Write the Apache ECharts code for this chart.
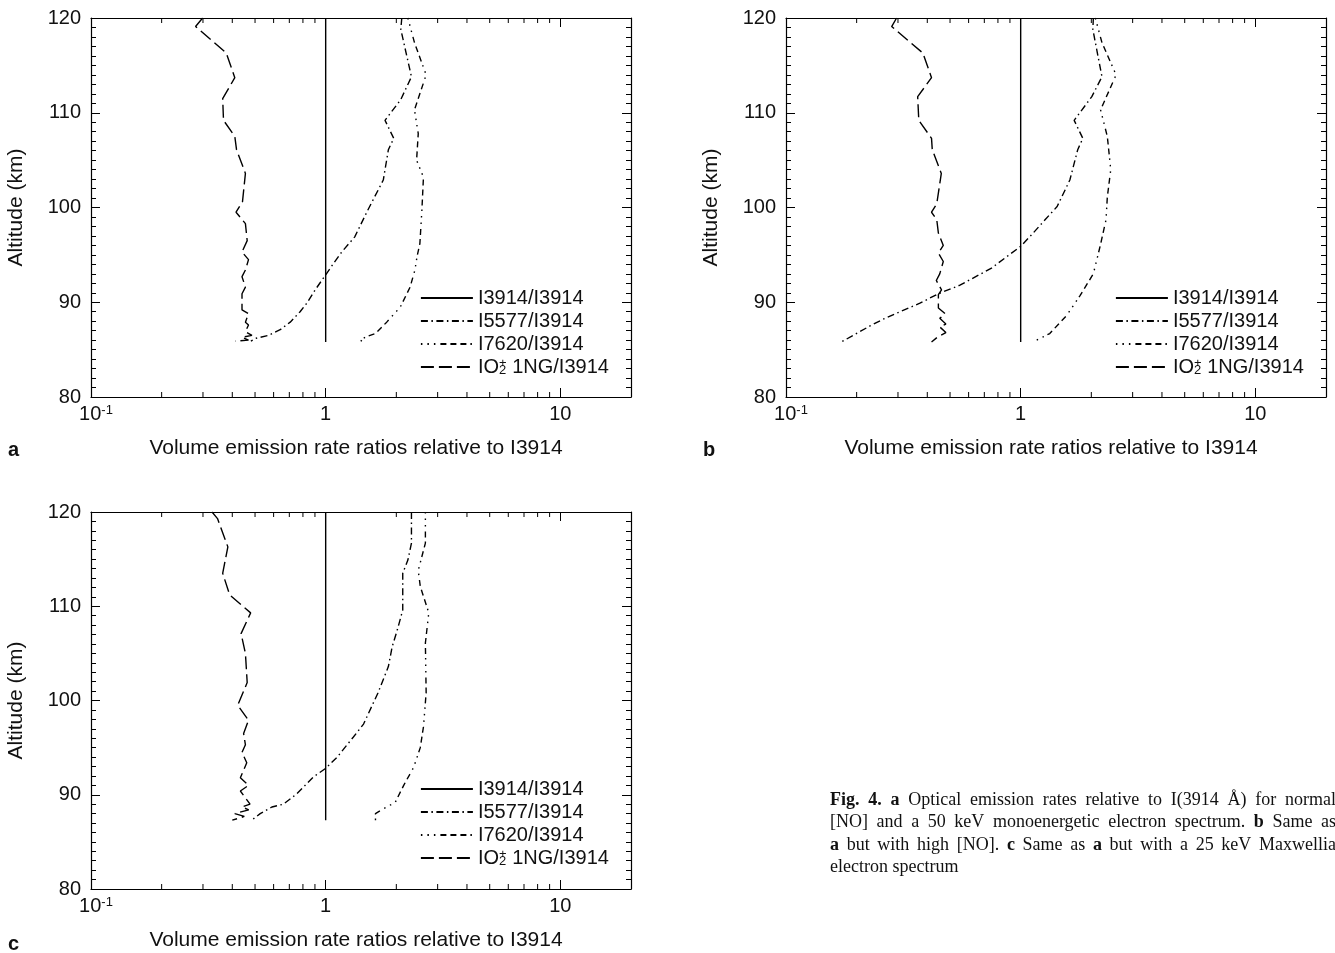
<!DOCTYPE html>
<html><head><meta charset="utf-8">
<script src="https://cdn.jsdelivr.net/npm/echarts@6/dist/echarts.min.js"></script>
<style>html,body{margin:0;padding:0;background:#fff}#c{width:1335px;height:953px}</style>
</head><body><div id="c"></div>
<script>
// ---------- data ----------
const seriesNames = ['I3914/I3914', 'I5577/I3914', 'I7620/I3914', 'IO2+ 1NG/I3914'];
const panelLetters = ['a', 'b', 'c'];
const xAxisTitle = 'Volume emission rate ratios relative to I3914';
const yAxisTitle = 'Altitude (km)';
const xRange = [0.1, 20];
const yRange = [80, 120];
const xMajorTicks = [0.1, 1, 10];
const xMinorTicks = [0.2, 0.3, 0.4, 0.5, 0.6, 0.7, 0.8, 0.9, 2, 3, 4, 5, 6, 7, 8, 9];

// Panel a
const altA_3914 = [85.8, 120];
const valA_3914 = [1, 1];
const altA_5577 = [120, 118.8, 113.8, 111.4, 109.2, 107.3, 106.1, 102.9, 99.7, 96.9, 95.3, 94.1, 92.9, 91.3, 89.9, 89.0, 87.9, 87.1, 86.5, 86.2, 85.9];
const valA_5577 = [2.11, 2.09, 2.32, 2.09, 1.79, 1.95, 1.85, 1.76, 1.51, 1.33, 1.17, 1.08, 1.0, 0.902, 0.831, 0.778, 0.706, 0.640, 0.570, 0.505, 0.48];
const altA_7620 = [120, 117.4, 114.0, 110.3, 107.8, 105.0, 103.2, 99.7, 96.2, 94.8, 93.4, 91.6, 89.5, 87.9, 86.7, 86.4, 86.0, 85.8];
const valA_7620 = [2.24, 2.39, 2.68, 2.39, 2.48, 2.44, 2.61, 2.57, 2.52, 2.45, 2.40, 2.29, 2.08, 1.82, 1.63, 1.50, 1.40, 1.45];
const altA_O2 = [120, 119.1, 116.3, 113.7, 111.5, 109.2, 107.5, 106.1, 103.6, 100.6, 99.5, 98.3, 96.5, 95.3, 94.5, 93.4, 92.7, 91.6, 90.9, 89.2, 88.8, 87.9, 87.6, 86.9, 86.5, 86.3, 86.0, 85.9];
const valA_O2 = [0.299, 0.279, 0.377, 0.410, 0.364, 0.367, 0.410, 0.417, 0.455, 0.442, 0.415, 0.455, 0.463, 0.440, 0.469, 0.455, 0.440, 0.455, 0.440, 0.440, 0.469, 0.455, 0.469, 0.455, 0.485, 0.440, 0.469, 0.411];

// Panel b
const altB_3914 = [85.8, 120];
const valB_3914 = [1, 1];
const altB_5577 = [120, 118.8, 113.8, 111.7, 109.2, 107.3, 106.1, 102.9, 100.1, 98.7, 97.3, 95.9, 94.8, 93.6, 91.8, 90.9, 89.9, 89.0, 88.2, 87.5, 86.5, 85.8];
const valB_5577 = [2.04, 2.03, 2.22, 2.01, 1.69, 1.84, 1.75, 1.62, 1.43, 1.27, 1.13, 1.0, 0.871, 0.751, 0.551, 0.446, 0.372, 0.306, 0.259, 0.228, 0.193, 0.172];
const altB_7620 = [120, 117.4, 114.0, 110.3, 107.5, 104.0, 101.1, 98.7, 95.9, 93.0, 90.7, 88.6, 86.7, 86.0, 85.8];
const valB_7620 = [2.08, 2.22, 2.55, 2.19, 2.34, 2.42, 2.34, 2.31, 2.18, 2.04, 1.79, 1.57, 1.33, 1.17, 1.22];
const altB_O2 = [120, 119.1, 116.3, 113.7, 111.7, 109.2, 107.3, 106.1, 103.6, 100.4, 99.5, 98.7, 97.3, 96.0, 95.2, 94.3, 93.0, 92.3, 91.3, 90.8, 89.4, 88.8, 88.3, 87.7, 87.4, 86.8, 86.3, 85.8];
const valB_O2 = [0.296, 0.282, 0.383, 0.417, 0.364, 0.368, 0.417, 0.420, 0.459, 0.439, 0.417, 0.439, 0.446, 0.468, 0.446, 0.468, 0.452, 0.437, 0.460, 0.446, 0.446, 0.476, 0.452, 0.480, 0.452, 0.480, 0.441, 0.417];

// Panel c
const altC_3914 = [87.3, 120];
const valC_3914 = [1, 1];
const altC_5577 = [120, 116.7, 114.9, 113.5, 109.6, 107.5, 105.7, 103.6, 100.8, 97.5, 96.1, 94.0, 92.8, 91.9, 90.1, 89.0, 88.7, 88.0, 87.3];
const valC_5577 = [2.32, 2.32, 2.24, 2.13, 2.13, 2.02, 1.92, 1.85, 1.67, 1.45, 1.31, 1.12, 1.0, 0.887, 0.753, 0.661, 0.590, 0.526, 0.484];
const altC_7620 = [120, 116.7, 113.8, 112.1, 109.3, 106.1, 100.8, 97.2, 95.0, 92.9, 91.0, 89.2, 88.5, 88.0, 87.3];
const valC_7620 = [2.66, 2.66, 2.48, 2.53, 2.75, 2.66, 2.68, 2.61, 2.53, 2.37, 2.15, 1.98, 1.76, 1.63, 1.63];
const altC_O2 = [120, 119.3, 116.3, 113.5, 111.2, 109.3, 107.1, 105.0, 101.9, 99.5, 97.9, 96.5, 95.3, 94.5, 93.4, 91.8, 91.0, 90.4, 89.0, 88.7, 88.4, 88.0, 87.7, 87.3];
const valC_O2 = [0.328, 0.346, 0.383, 0.364, 0.390, 0.479, 0.436, 0.455, 0.463, 0.422, 0.469, 0.447, 0.455, 0.440, 0.461, 0.433, 0.469, 0.433, 0.476, 0.440, 0.470, 0.410, 0.450, 0.400];

// Caption (words; trailing * = bold)
const captionLine1 = ['Fig.*', '4.*', 'a*', 'Optical', 'emission', 'rates', 'relative', 'to', 'I(3914', 'Å)', 'for', 'normal'];
const captionLine2 = ['[NO]', 'and', 'a', '50', 'keV', 'monoenergetic', 'electron', 'spectrum.', 'b*', 'Same', 'as'];
const captionLine3 = ['a*', 'but', 'with', 'high', '[NO].', 'c*', 'Same', 'as', 'a*', 'but', 'with', 'a', '25', 'keV', 'Maxwellia'];
const captionLine4 = ['electron', 'spectrum'];

// ---------- build ----------
const panels = [
  { grid: { left: 91, top: 18, width: 540, height: 379 }, legend: { left: 415, top: 283 }, letter: { x: 8, y: 450 },
    data: [[altA_3914, valA_3914], [altA_5577, valA_5577], [altA_7620, valA_7620], [altA_O2, valA_O2]] },
  { grid: { left: 786, top: 18, width: 540, height: 379 }, legend: { left: 1110, top: 283 }, letter: { x: 703, y: 450 },
    data: [[altB_3914, valB_3914], [altB_5577, valB_5577], [altB_7620, valB_7620], [altB_O2, valB_O2]] },
  { grid: { left: 91, top: 512, width: 540, height: 377 }, legend: { left: 415, top: 774 }, letter: { x: 8, y: 944 },
    data: [[altC_3914, valC_3914], [altC_5577, valC_5577], [altC_7620, valC_7620], [altC_O2, valC_O2]] }
];

const FONT = "'Liberation Sans', Arial, Helvetica, sans-serif";
const SERIF = "'Liberation Serif', 'Times New Roman', serif";
const INK = '#111';
const lineTypes = ['solid', [7, 3.5, 1.5, 3.5], [1.5, 5, 1.5, 5, 1.5, 5, 6, 4, 6, 4, 6, 4], [13, 5]];

function xLabel(v) {
  const l = Math.log10(v), r = Math.round(l);
  if (Math.abs(l - r) > 1e-6) return '';
  const idx = xMajorTicks.findIndex(t => Math.abs(Math.log10(t) - r) < 1e-6);
  if (idx < 0) return '';
  if (r < 0) return '{b|10}{s|' + r + '}';
  return String(xMajorTicks[idx]);
}

const grids = [], xAxes = [], yAxes = [], series = [], legends = [], graphics = [];
panels.forEach((p, i) => {
  grids.push(p.grid);
  const axLine = { show: true, lineStyle: { color: '#000', width: 1.2 } };
  xAxes.push({
    type: 'log', logBase: 10, min: xRange[0], max: xRange[1], gridIndex: i, position: 'bottom',
    splitLine: { show: false }, axisLine: axLine,
    axisTick: { inside: true, length: 9, lineStyle: { color: '#000' } },
    axisLabel: { margin: 7, color: INK, fontSize: 20, fontFamily: FONT, formatter: xLabel, showMaxLabel: false,
      rich: { b: { fontSize: 20, fontFamily: FONT, color: INK, padding: [0, 0, 0, 10] },
              s: { fontSize: 13, fontFamily: FONT, color: INK, verticalAlign: 'top', lineHeight: 13 } } },
    name: xAxisTitle, nameLocation: 'middle', nameGap: 41,
    nameTextStyle: { fontSize: 21, fontFamily: FONT, color: INK, padding: [0, 10, 0, 0] }
  });
  xAxes.push({
    type: 'log', logBase: 10, min: xRange[0], max: xRange[1], gridIndex: i, position: 'top',
    splitLine: { show: false }, axisLine: axLine,
    axisTick: { inside: true, length: 9, lineStyle: { color: '#000' } }, axisLabel: { show: false }
  });
  yAxes.push({
    type: 'value', min: yRange[0], max: yRange[1], interval: 10, gridIndex: i, position: 'left',
    splitLine: { show: false }, axisLine: axLine,
    axisTick: { inside: true, length: 9, lineStyle: { color: '#000' } },
    minorTick: { show: true, splitNumber: 10, length: 5, lineStyle: { color: '#000' } },
    axisLabel: { margin: 10, color: INK, fontSize: 20, fontFamily: FONT },
    name: yAxisTitle, nameLocation: 'middle', nameGap: 64,
    nameTextStyle: { fontSize: 21, fontFamily: FONT, color: INK }
  });
  yAxes.push({
    type: 'value', min: yRange[0], max: yRange[1], interval: 10, gridIndex: i, position: 'right',
    splitLine: { show: false }, axisLine: axLine,
    axisTick: { inside: true, length: 9, lineStyle: { color: '#000' } },
    minorTick: { show: true, splitNumber: 10, length: 5, lineStyle: { color: '#000' } },
    axisLabel: { show: false }
  });
  p.data.forEach((d, k) => {
    series.push({
      type: 'line', name: seriesNames[k], xAxisIndex: 2 * i, yAxisIndex: 2 * i,
      data: d[0].map((a, j) => [d[1][j], a]),
      symbol: 'none', showSymbol: false, silent: true, z: 3,
      lineStyle: { color: '#000', width: 1.4, type: lineTypes[k] },
      itemStyle: { color: '#000' }
    });
  });
  series.push({
    type: 'custom', name: 'minor-ticks-' + i, xAxisIndex: 2 * i, yAxisIndex: 2 * i, silent: true, clip: false,
    data: xMinorTicks.map(v => [v, yRange[0]]),
    encode: { x: 0, y: 1 },
    renderItem: (params, api) => {
      const v = api.value(0);
      const pb = api.coord([v, yRange[0]]);
      const pt = api.coord([v, yRange[1]]);
      return { type: 'group', children: [
        { type: 'line', shape: { x1: pb[0], y1: pb[1], x2: pb[0], y2: pb[1] - 5 }, style: { stroke: '#000', lineWidth: 1 } },
        { type: 'line', shape: { x1: pt[0], y1: pt[1], x2: pt[0], y2: pt[1] + 5 }, style: { stroke: '#000', lineWidth: 1 } }
      ] };
    }
  });
  legends.push({
    left: p.legend.left, top: p.legend.top, orient: 'vertical', itemWidth: 52, itemHeight: 14, itemGap: 3,
    selectedMode: false, data: seriesNames,
    itemStyle: { opacity: 0, borderWidth: 0 },
    lineStyle: { color: '#000', width: 1.8, opacity: 1 },
    textStyle: { fontSize: 20, fontFamily: FONT, color: INK, lineHeight: 20,
      rich: { t: { fontSize: 20, fontFamily: FONT, color: INK, lineHeight: 20 },
              sb: { fontSize: 13, fontFamily: FONT, color: INK, lineHeight: 9, verticalAlign: 'bottom', width: 0 },
              sp: { fontSize: 13, fontFamily: FONT, color: INK, lineHeight: 10, verticalAlign: 'top' } } },
    formatter: n => n === seriesNames[3] ? '{t|IO}{sb|2}{sp|+}{t| 1NG/I3914}' : n
  });
  graphics.push({ type: 'text', x: p.letter.x, y: p.letter.y,
    style: { text: panelLetters[i], fontSize: 20, fontWeight: 'bold', fontFamily: FONT, fill: INK, verticalAlign: 'middle' } });
});

// Caption: justified words
(function () {
  const ctx = document.createElement('canvas').getContext('2d');
  const size = 18, x0 = 830, x1 = 1336, ys = [800, 822.5, 845, 867.5];
  [captionLine1, captionLine2, captionLine3, captionLine4].forEach((line, li) => {
    const words = line.map(w => ({ text: w.replace(/\*$/, ''), bold: /\*$/.test(w) }));
    words.forEach(w => { ctx.font = (w.bold ? 'bold ' : '') + size + "px 'Liberation Serif'"; w.w = ctx.measureText(w.text).width; });
    const total = words.reduce((s, w) => s + w.w, 0);
    const last = li === 3;
    const gap = last ? size * 0.25 : (x1 - x0 - total) / (words.length - 1);
    let x = x0;
    words.forEach(w => {
      graphics.push({ type: 'text', x: x, y: ys[li],
        style: { text: w.text, fontSize: size, fontFamily: SERIF, fontWeight: w.bold ? 'bold' : 'normal', fill: INK, verticalAlign: 'middle' } });
      x += w.w + gap;
    });
  });
})();

const chart = echarts.init(document.getElementById('c'), null, { renderer: 'canvas' });
chart.setOption({
  backgroundColor: '#fff', animation: false,
  grid: grids, xAxis: xAxes, yAxis: yAxes, series: series, legend: legends, graphic: graphics
});
</script></body></html>
